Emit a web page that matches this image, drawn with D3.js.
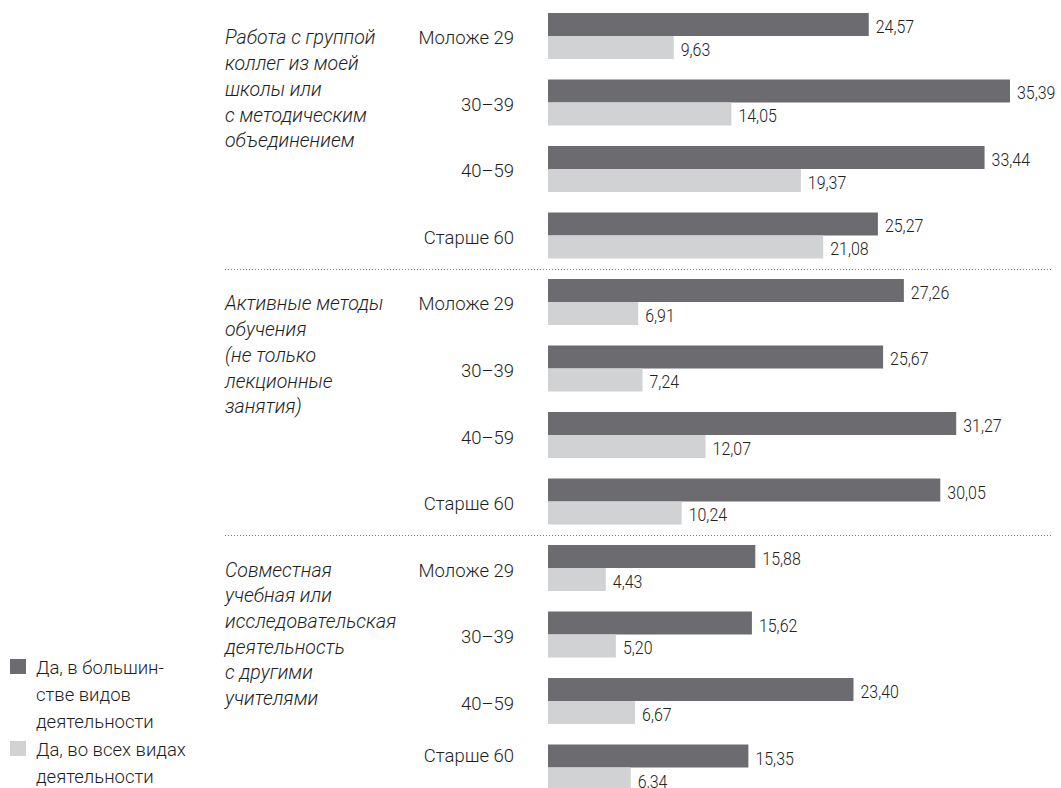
<!DOCTYPE html>
<html>
<head>
<meta charset="utf-8">
<script src="https://cdn.jsdelivr.net/npm/d3@7"></script>
<style>
  html, body { margin: 0; padding: 0; background: #ffffff; }
  svg { display: block; }
</style>
</head>
<body>
<svg id="chart" width="1061" height="788"></svg>
<script>
// ---------- data ----------
const sections = [
  ["Работа с группой", "коллег из моей", "школы или", "с методическим", "объединением"],
  ["Активные методы", "обучения", "(не только", "лекционные", "занятия)"],
  ["Совместная", "учебная или", "исследовательская", "деятельность", "с другими", "учителями"]
];
const ageGroups = ["Моложе 29", "30–39", "40–59", "Старше 60"];
const seriesNames = [
  ["Да, в большин-", "стве видов", "деятельности"],
  ["Да, во всех видах", "деятельности"]
];
// "Да, в большинстве видов деятельности"
const seriesMost = [24.57, 35.39, 33.44, 25.27, 27.26, 25.67, 31.27, 30.05, 15.88, 15.62, 23.40, 15.35];
// "Да, во всех видах деятельности"
const seriesAll  = [9.63, 14.05, 19.37, 21.08, 6.91, 7.24, 12.07, 10.24, 4.43, 5.20, 6.67, 6.34];

// ---------- layout ----------
const W = 1061, H = 788;
const colors = ["#6b6b70", "#d1d2d4"];
const svg = d3.select("#chart");

const rows = [];
sections.forEach((s, si) => ageGroups.forEach((a, ai) => rows.push({
  id: si * ageGroups.length + ai, section: si, age: a,
  most: seriesMost[si * ageGroups.length + ai],
  all: seriesAll[si * ageGroups.length + ai]
})));

const x = d3.scaleLinear().domain([0, 35.39]).range([548, 1010]);
const y = d3.scaleBand()
  .domain(rows.map(r => r.id))
  .range([13, 13 + 11 * 66.5 + 46])
  .paddingInner(0.3083)
  .paddingOuter(0);
const ys = d3.scaleBand().domain(["most", "all"]).range([0, y.bandwidth()]).padding(0);

const fmt = v => d3.format(".2f")(v).replace(".", ",");
const font = "Roboto, 'Liberation Sans', Arial, sans-serif";

// separators
const sepYs = d3.range(1, sections.length).map(k => {
  const last = k * ageGroups.length - 1;
  return (y(last) + y.bandwidth() + y(last + 1)) / 2;
});
svg.append("g").selectAll("line").data(sepYs).join("line")
  .attr("x1", 225).attr("x2", 1053)
  .attr("y1", d => Math.round(d) + 0.5).attr("y2", d => Math.round(d) + 0.5)
  .attr("stroke", "#7a7a7a").attr("stroke-width", 1)
  .attr("stroke-dasharray", "1,2");

// bars
const gRows = svg.append("g").selectAll("g").data(rows).join("g")
  .attr("transform", d => `translate(0,${y(d.id)})`);

["most", "all"].forEach((key, i) => {
  gRows.append("rect")
    .attr("x", x(0))
    .attr("y", ys(key))
    .attr("width", d => x(d[key]) - x(0))
    .attr("height", ys.bandwidth())
    .attr("fill", colors[i]);
  gRows.append("text")
    .attr("transform", d => `translate(${x(d[key]) + 7},${ys(key) + ys.bandwidth() - 3}) scale(0.84,1)`)
    .attr("font-family", font)
    .attr("font-weight", 300)
    .attr("font-size", 19)
    .attr("fill", "#222")
    .text(d => fmt(d[key]));
});

// age labels
const ageBase = d => Math.min(y(d.id) + y.bandwidth() / 2 + 8.5, H - 26);
svg.append("g").selectAll("text").data(rows).join("text")
  .attr("x", 514)
  .attr("y", ageBase)
  .attr("text-anchor", "end")
  .attr("font-family", font)
  .attr("font-weight", 300)
  .attr("font-size", 18.5)
  .attr("fill", "#1e1e1e")
  .text(d => d.age);

// section labels
svg.append("g").selectAll("text").data(sections).join("text")
  .attr("x", 225)
  .attr("y", (d, i) => y(i * ageGroups.length) + y.bandwidth() / 2 + 8.5)
  .attr("font-family", font)
  .attr("font-style", "italic")
  .attr("font-weight", 300)
  .attr("font-size", 19.5)
  .attr("fill", "#1e1e1e")
  .selectAll("tspan").data(d => d).join("tspan")
  .attr("x", 225)
  .attr("dy", (d, i) => i === 0 ? 0 : 25.7)
  .text(d => d);

// legend
const legendStarts = [674, 756];
const lg = svg.append("g").selectAll("g").data(seriesNames).join("g");
lg.append("rect")
  .attr("x", 10).attr("y", (d, i) => legendStarts[i] - 15)
  .attr("width", 16).attr("height", 15)
  .attr("fill", (d, i) => colors[i]);
lg.append("text")
  .attr("x", 36).attr("y", (d, i) => legendStarts[i])
  .attr("font-family", font)
  .attr("font-weight", 300)
  .attr("font-size", 18.5)
  .attr("fill", "#1e1e1e")
  .selectAll("tspan").data(d => d).join("tspan")
  .attr("x", 36)
  .attr("dy", (d, i) => i === 0 ? 0 : 27)
  .text(d => d);
</script>
</body>
</html>
